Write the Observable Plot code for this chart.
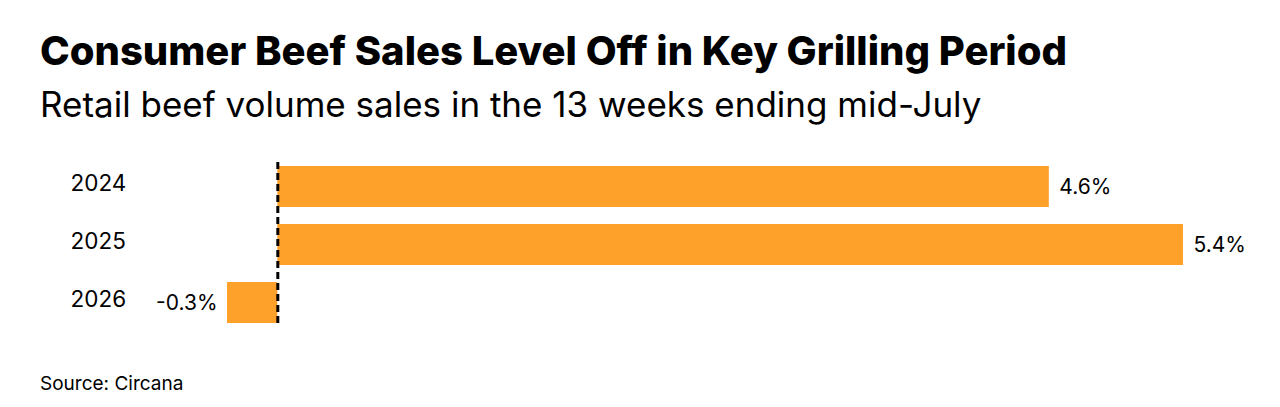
<!DOCTYPE html>
<html><head>
<script src="https://cdn.jsdelivr.net/npm/d3@7"></script>
<script src="https://cdn.jsdelivr.net/npm/@observablehq/plot@0.6"></script>
<style>
body{margin:0;background:#fff;font-family:Inter,"Noto Sans",sans-serif;color:#000;width:1280px;height:407px;overflow:hidden}
#t{position:absolute;left:40px;top:26px;font-size:40px;font-weight:800;letter-spacing:0px}
#s{position:absolute;left:40px;top:83px;font-size:35px;font-weight:400}
#c{position:absolute;left:0;top:150px}
#src{position:absolute;left:40px;top:372px;font-size:19px}
</style></head><body>
<div id="t">Consumer Beef Sales Level Off in Key Grilling Period</div>
<div id="s">Retail beef volume sales in the 13 weeks ending mid-July</div>
<div id="c"></div>
<div id="src">Source: Circana</div>
<script>
const years = ["2024","2025","2026"];
const values = [4.6, 5.4, -0.3];
const labels = ["4.6%","5.4%","-0.3%"];
const data = years.map((y,i)=>({year:y,value:values[i],label:labels[i]}));
const pos = data.filter(d=>d.value>=0), neg = data.filter(d=>d.value<0);
const chart = Plot.plot({
  width:1280, height:190, marginTop:15, marginBottom:16, marginLeft:70, marginRight:0,
  style:{fontFamily:"Inter, 'Noto Sans', sans-serif", fontSize:"21px", color:"#000"},
  x:{domain:[-0.3,5.4], range:[227,1183], axis:null},
  y:{domain:years, padding:0.3, paddingOuter:0, label:null},
  marks:[
    Plot.barX(data,{x:"value", y:"year", fill:"#fea12a"}),
    Plot.axisY({anchor:"left", tickSize:0, tickPadding:0, textAnchor:"start", fontSize:22.5, dy:-3, label:null}),
    Plot.ruleX([0],{stroke:"#000", strokeWidth:3, strokeDasharray:"7,4", insetTop:-3, insetBottom:-3}),
    Plot.text(pos,{x:"value", y:"year", text:"label", textAnchor:"start", dx:10, dy:0, fontSize:21, fill:"#000"}),
    Plot.text(neg,{x:"value", y:"year", text:"label", textAnchor:"end", dx:-10, dy:0, fontSize:21, fill:"#000"})
  ]
});
document.getElementById("c").append(chart);
</script>
</body></html>
